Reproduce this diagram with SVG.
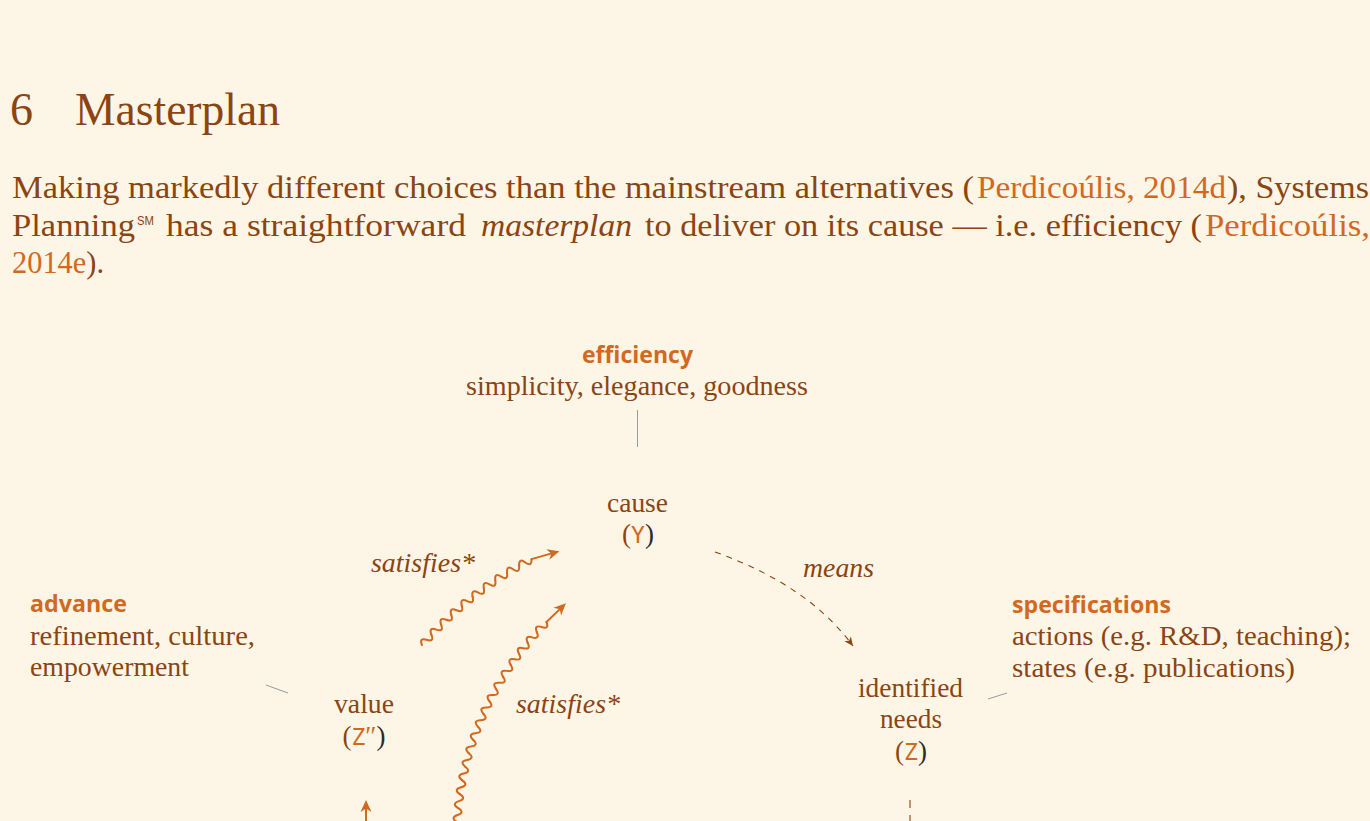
<svg xmlns="http://www.w3.org/2000/svg" xmlns:xlink="http://www.w3.org/1999/xlink" width="1370" height="821" viewBox="0 0 1370 821">
<style>
.bg{fill:#FDF5E6}
.serif{font-family:"Liberation Serif","Times New Roman",serif;fill:#8B4513}
.body{font-size:32px}
.dia{font-size:27px}
.it{font-style:italic}
.or{fill:#D2691E}
.dark{fill:#2b2b2b}
.mono{font-family:"DejaVu Sans Mono","Liberation Mono",monospace;fill:#D2691E;font-size:23px}
.lab{font-family:"Open Sans","Noto Sans","Liberation Sans",sans-serif;font-weight:700;font-size:23.5px;fill:#D2691E}
.gray{stroke:#9a9a9a;stroke-width:1;fill:none}
.wave{fill:none;stroke:#D2691E;stroke-width:2;stroke-linecap:round;stroke-linejoin:round}
.head{fill:#D2691E;stroke:none}
</style>
<defs>
<path id="w" d="M0,0 C2.3,-5 4.7,-5 7,0 C9.3,5 11.7,5 14,0"/>
<marker id="ahB" viewBox="-10 -5 11 10" refX="0" refY="0" markerWidth="11" markerHeight="10" orient="auto" markerUnits="userSpaceOnUse">
<path d="M0,0 L-9,-4 L-6.5,0 L-9,4 Z" fill="#8B4513"/>
</marker>
</defs>
<rect class="bg" x="0" y="0" width="1370" height="821"/>

<g id="heading" class="serif">
<text x="10" y="125" font-size="46">6</text>
<text x="75" y="125" font-size="46" textLength="205" lengthAdjust="spacingAndGlyphs">Masterplan</text>
</g>

<g id="paragraph" class="serif body">
<text x="12" y="198" textLength="962" lengthAdjust="spacingAndGlyphs">Making markedly different choices than the mainstream alternatives (</text>
<text x="977" y="198" class="or" textLength="249" lengthAdjust="spacingAndGlyphs">Perdicoúlis, 2014d</text>
<text x="1227" y="198" textLength="142" lengthAdjust="spacingAndGlyphs">), Systems</text>
<text x="12" y="235.5" textLength="123" lengthAdjust="spacingAndGlyphs">Planning</text>
<text x="137" y="225" font-family="'Liberation Sans',sans-serif" font-size="13" fill="#8B4513" textLength="17" lengthAdjust="spacingAndGlyphs">SM</text>
<text x="166" y="235.5" textLength="300" lengthAdjust="spacingAndGlyphs">has a straightforward</text>
<text x="481" y="235.5" class="it" textLength="151" lengthAdjust="spacingAndGlyphs">masterplan</text>
<text x="645" y="235.5" textLength="557" lengthAdjust="spacingAndGlyphs">to deliver on its cause — i.e. efficiency (</text>
<text x="1205" y="235.5" class="or" textLength="165" lengthAdjust="spacingAndGlyphs">Perdicoúlis,</text>
<text x="12" y="273" textLength="92" lengthAdjust="spacingAndGlyphs"><tspan class="or">2014e</tspan>).</text>
</g>

<g id="node-efficiency">
<text x="637.5" y="363" class="lab" text-anchor="middle" textLength="111" lengthAdjust="spacingAndGlyphs">efficiency</text>
<text x="637" y="395" class="serif dia" text-anchor="middle" textLength="342" lengthAdjust="spacingAndGlyphs">simplicity, elegance, goodness</text>
</g>

<g id="node-cause" class="serif dia">
<text x="637.5" y="512" text-anchor="middle" textLength="61" lengthAdjust="spacingAndGlyphs">cause</text>
<text x="638" y="543" text-anchor="middle">(<tspan class="mono">Y</tspan><tspan class="dark">)</tspan></text>
</g>

<g id="node-advance">
<text x="30" y="612" class="lab" textLength="97" lengthAdjust="spacingAndGlyphs">advance</text>
<text x="30" y="645" class="serif dia" textLength="225" lengthAdjust="spacingAndGlyphs">refinement, culture,</text>
<text x="30" y="676" class="serif dia" textLength="159" lengthAdjust="spacingAndGlyphs">empowerment</text>
</g>

<g id="node-value" class="serif dia">
<text x="364" y="713" text-anchor="middle" textLength="60" lengthAdjust="spacingAndGlyphs">value</text>
<text x="364" y="745" text-anchor="middle">(<tspan class="mono">Z</tspan><tspan class="or">″</tspan><tspan class="dark">)</tspan></text>
</g>

<g id="node-specifications">
<text x="1012" y="613" class="lab" textLength="159" lengthAdjust="spacingAndGlyphs">specifications</text>
<text x="1012" y="645" class="serif dia" textLength="339" lengthAdjust="spacingAndGlyphs">actions (e.g. R&amp;D, teaching);</text>
<text x="1012" y="677" class="serif dia" textLength="283" lengthAdjust="spacingAndGlyphs">states (e.g. publications)</text>
</g>

<g id="node-needs" class="serif dia">
<text x="910.5" y="697" text-anchor="middle" textLength="105" lengthAdjust="spacingAndGlyphs">identified</text>
<text x="911" y="728" text-anchor="middle" textLength="62" lengthAdjust="spacingAndGlyphs">needs</text>
<text x="911" y="760" text-anchor="middle">(<tspan class="mono">Z</tspan><tspan class="dark">)</tspan></text>
</g>

<g id="connectors">
<line class="gray" x1="637.5" y1="410" x2="637.5" y2="447"/>
<line class="gray" x1="266" y1="685" x2="288" y2="693"/>
<line class="gray" x1="988" y1="699" x2="1007" y2="693"/>

<path d="M715,552 Q808,585 853,646" fill="none" stroke="#8B4513" stroke-width="1.1" stroke-dasharray="6,6" marker-end="url(#ahB)"/>
<text x="803" y="577" class="serif dia it" textLength="71" lengthAdjust="spacingAndGlyphs">means</text>

<line x1="910" y1="800" x2="910" y2="830" stroke="#8B4513" stroke-width="1.1" stroke-dasharray="8,7"/>

<line x1="366" y1="830" x2="366" y2="807" stroke="#D2691E" stroke-width="2"/>
<path class="head" d="M366,800 L360.5,812 L366,808.5 L371.5,812 Z"/>

<text x="371" y="572" class="serif dia it" textLength="104" lengthAdjust="spacingAndGlyphs">satisfies*</text>
<g id="wave1" class="wave" transform="translate(422,645) rotate(-48)">
<use href="#w" xlink:href="#w"/>
<g transform="translate(14,0) rotate(2.2)"><use href="#w" xlink:href="#w"/>
<g transform="translate(14,0) rotate(2.2)"><use href="#w" xlink:href="#w"/>
<g transform="translate(14,0) rotate(2.2)"><use href="#w" xlink:href="#w"/>
<g transform="translate(14,0) rotate(2.2)"><use href="#w" xlink:href="#w"/>
<g transform="translate(14,0) rotate(2.2)"><use href="#w" xlink:href="#w"/>
<g transform="translate(14,0) rotate(2.2)"><use href="#w" xlink:href="#w"/>
<g transform="translate(14,0) rotate(2.2)"><use href="#w" xlink:href="#w"/>
<g transform="translate(14,0) rotate(2.2)"><use href="#w" xlink:href="#w"/>
<g transform="translate(14,0) rotate(2.2)"><use href="#w" xlink:href="#w"/>
<g transform="translate(14,0) rotate(12.2)">
<path d="M0,0 H21"/>
<path class="head" d="M29,0 L17,-5.5 L20.5,0 L17,5.5 Z"/>
</g></g></g></g></g></g></g></g></g></g>
</g>

<text x="516" y="713" class="serif dia it" textLength="104" lengthAdjust="spacingAndGlyphs">satisfies*</text>
<g id="wave2" class="wave" transform="translate(456.5,836) rotate(-88)">
<use href="#w" xlink:href="#w"/>
<g transform="translate(14,0) rotate(2.6)"><use href="#w" xlink:href="#w"/>
<g transform="translate(14,0) rotate(2.6)"><use href="#w" xlink:href="#w"/>
<g transform="translate(14,0) rotate(2.6)"><use href="#w" xlink:href="#w"/>
<g transform="translate(14,0) rotate(2.6)"><use href="#w" xlink:href="#w"/>
<g transform="translate(14,0) rotate(2.6)"><use href="#w" xlink:href="#w"/>
<g transform="translate(14,0) rotate(2.6)"><use href="#w" xlink:href="#w"/>
<g transform="translate(14,0) rotate(2.6)"><use href="#w" xlink:href="#w"/>
<g transform="translate(14,0) rotate(2.6)"><use href="#w" xlink:href="#w"/>
<g transform="translate(14,0) rotate(2.6)"><use href="#w" xlink:href="#w"/>
<g transform="translate(14,0) rotate(2.6)"><use href="#w" xlink:href="#w"/>
<g transform="translate(14,0) rotate(2.6)"><use href="#w" xlink:href="#w"/>
<g transform="translate(14,0) rotate(2.6)"><use href="#w" xlink:href="#w"/>
<g transform="translate(14,0) rotate(2.6)"><use href="#w" xlink:href="#w"/>
<g transform="translate(14,0) rotate(2.6)"><use href="#w" xlink:href="#w"/>
<g transform="translate(14,0) rotate(2.6)"><use href="#w" xlink:href="#w"/>
<g transform="translate(14,0) rotate(2.6)"><use href="#w" xlink:href="#w"/>
<g transform="translate(14,0) rotate(2.6)">
<path d="M0,0 H20"/>
<path class="head" d="M27,0 L15,-5.5 L18.5,0 L15,5.5 Z"/>
</g></g></g></g></g></g></g></g></g></g></g></g></g></g></g></g></g>
</g>
</g>
</svg>
